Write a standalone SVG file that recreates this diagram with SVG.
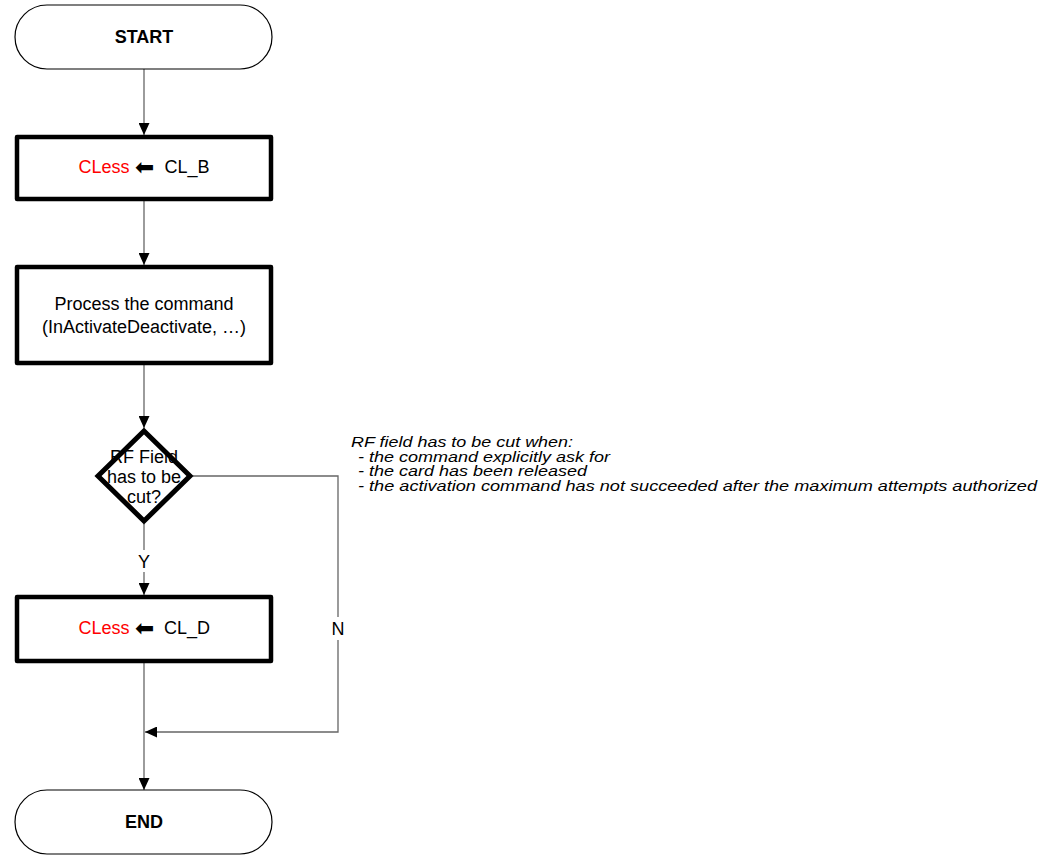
<svg xmlns="http://www.w3.org/2000/svg" width="1054" height="855" viewBox="0 0 1054 855">
<style>
  .term { fill: #ffffff; stroke: #000000; stroke-width: 1.2; }
  .box { fill: #ffffff; stroke: #000000; stroke-width: 4.5; stroke-linejoin: round; }
  .dia { fill: #ffffff; stroke: #000000; stroke-width: 5; stroke-linejoin: miter; }
  .t { font-family: "Liberation Sans", Arial, sans-serif; font-size: 18px; fill: #000000; text-anchor: middle; }
  .b { font-weight: bold; }
  .red { fill: #ff0000; }
  .arr { font-family: "DejaVu Sans", sans-serif; font-size: 23px; fill: #000000; }
  .note { font-family: "Liberation Sans", Arial, sans-serif; font-size: 15px; font-style: italic; fill: #000000; }
  .conn { fill: none; stroke: #666666; stroke-width: 1.3; }
  .lbl { font-family: "Liberation Sans", Arial, sans-serif; font-size: 18px; fill: #000000; text-anchor: middle; }
</style>
<defs>
  <marker id="ah" viewBox="0 0 12 11" refX="12" refY="5.5" markerWidth="12" markerHeight="11" markerUnits="userSpaceOnUse" orient="auto">
    <path d="M0,0 L12,5.5 L0,11 Z" fill="#000000"/>
  </marker>
</defs>
<rect width="1054" height="855" fill="#ffffff"/>

<g id="connectors">
  <path class="conn" d="M144,69 L144,135" marker-end="url(#ah)"/>
  <path class="conn" d="M144,201 L144,265" marker-end="url(#ah)"/>
  <path class="conn" d="M144,365 L144,428" marker-end="url(#ah)"/>
  <path class="conn" d="M144,524 L144,550"/>
  <path class="conn" d="M144,572 L144,595" marker-end="url(#ah)"/>
  <path class="conn" d="M193,476 L338,476 L338,617"/>
  <path class="conn" d="M338,640 L338,732 L145,732" marker-end="url(#ah)"/>
  <path class="conn" d="M144,663 L144,790" marker-end="url(#ah)"/>
  <text class="lbl" x="144" y="568">Y</text>
  <text class="lbl" x="338" y="635">N</text>
</g>

<g id="start">
  <rect class="term" x="15" y="5" width="257" height="64" rx="32" ry="32"/>
  <text class="t b" x="144" y="43">START</text>
</g>

<g id="set-clb">
  <rect class="box" x="17" y="137" width="254" height="62"/>
  <text class="t" x="104" y="173"><tspan class="red">CLess</tspan></text>
  <text class="arr" x="135" y="175">⬅</text>
  <text class="t" x="187" y="173">CL_B</text>
</g>

<g id="process">
  <rect class="box" x="17" y="267" width="254" height="96"/>
  <text class="t" x="144" y="310">Process the command</text>
  <text class="t" x="144" y="333">(InActivateDeactivate, …)</text>
</g>

<g id="decision">
  <polygon class="dia" points="144,431 190,476 144,521 98,476"/>
  <text class="t" x="144" y="463">RF Field</text>
  <text class="t" x="144" y="483">has to be</text>
  <text class="t" x="144" y="503">cut?</text>
</g>

<g id="set-cld">
  <rect class="box" x="17" y="597" width="254" height="64"/>
  <text class="t" x="104" y="634"><tspan class="red">CLess</tspan></text>
  <text class="arr" x="135" y="636">⬅</text>
  <text class="t" x="187" y="634">CL_D</text>
</g>

<g id="end">
  <rect class="term" x="15" y="790" width="257" height="64" rx="32" ry="32"/>
  <text class="t b" x="144" y="828">END</text>
</g>

<g id="note">
  <text class="note" x="351" y="447" textLength="222" lengthAdjust="spacingAndGlyphs">RF field has to be cut when:</text>
  <text class="note" x="358" y="461.5" textLength="252" lengthAdjust="spacingAndGlyphs">- the command explicitly ask for</text>
  <text class="note" x="358" y="476" textLength="229" lengthAdjust="spacingAndGlyphs">- the card has been released</text>
  <text class="note" x="358" y="490.5" textLength="679" lengthAdjust="spacingAndGlyphs">- the activation command has not succeeded after the maximum attempts authorized</text>
</g>
</svg>
